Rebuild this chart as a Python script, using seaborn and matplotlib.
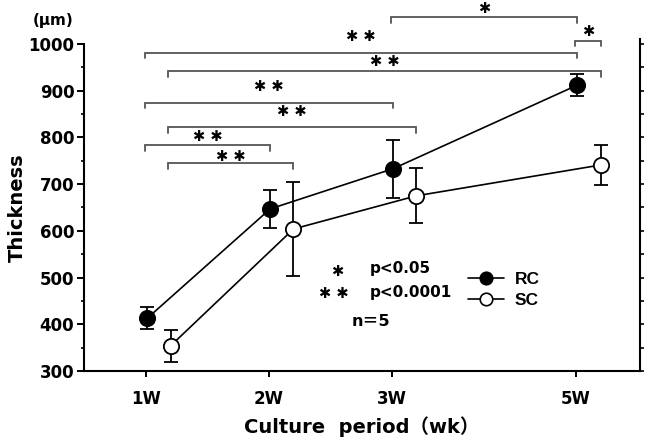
import numpy as np
import pandas as pd
import matplotlib
matplotlib.use("Agg")
import matplotlib.pyplot as plt
import seaborn as sns
from matplotlib.lines import Line2D
from matplotlib.ticker import MultipleLocator

# ---------------- data ----------------
weeks = ["1W", "2W", "3W", "5W"]
week_pos = [0, 1, 2, 3.5]          # 5W sits 1.5 steps after 3W on the axis
rc_mean = [413, 647, 733, 912]
rc_sd = [24, 41, 62, 24]
sc_mean = [354, 604, 675, 741]
sc_sd = [34, 100, 59, 43]

# significance brackets: (from week, from group, to week, to group, bar height, star height, label)
brackets = [
    ("3W", "RC", "5W", "RC", 1058, 1077, "✱"),
    ("5W", "RC", "5W", "SC", 1007, 1026, "✱"),
    ("1W", "RC", "5W", "RC", 981, 1015, "✱ ✱"),
    ("1W", "SC", "5W", "SC", 942, 962, "✱ ✱"),
    ("1W", "RC", "3W", "RC", 874, 908, "✱ ✱"),
    ("1W", "SC", "3W", "SC", 822, 855, "✱ ✱"),
    ("1W", "RC", "2W", "RC", 784, 801, "✱ ✱"),
    ("1W", "SC", "2W", "SC", 745, 760, "✱ ✱"),
]

group_offset = {"RC": 0.01, "SC": 0.2}

# ---------------- style ----------------
sns.set_theme(style="ticks")
plt.rcParams["font.family"] = ["DejaVu Sans", "Noto Sans CJK JP"]
plt.rcParams["font.weight"] = "bold"
for k in ["text.color", "axes.labelcolor", "xtick.color", "ytick.color", "axes.edgecolor"]:
    plt.rcParams[k] = "black"
STAR = ["DejaVu Sans", "Noto Sans CJK JP"]

fig = plt.figure(figsize=(6.5, 4.4), dpi=100)
ax = fig.add_axes([84 / 650, 1 - 371 / 440, (640 - 84) / 650, (371 - 44) / 440])

pos = dict(zip(weeks, week_pos))
df = pd.DataFrame({
    "x": [p + group_offset["RC"] for p in week_pos] + [p + group_offset["SC"] for p in week_pos],
    "Thickness": rc_mean + sc_mean,
    "sd": rc_sd + sc_sd,
    "group": ["RC"] * 4 + ["SC"] * 4,
})

for g, face in [("RC", "black"), ("SC", "white")]:
    d = df[df.group == g]
    ax.errorbar(d.x, d.Thickness, yerr=d.sd, fmt="none", ecolor="black",
                elinewidth=1.3, capsize=5, capthick=1.3, zorder=2)
    sns.lineplot(data=d, x="x", y="Thickness", ax=ax, color="black", lw=1.2,
                 marker="o", markersize=11, markerfacecolor=face,
                 markeredgecolor="black", markeredgewidth=1.3, zorder=3,
                 legend=False, sort=False)

# brackets
bar_col = "#555555"
tick_h = 12
for w1, g1, w2, g2, h, sh, lab in brackets:
    x1 = pos[w1] + group_offset[g1] - 0.02
    x2 = pos[w2] + group_offset[g2]
    ax.plot([x1, x1, x2, x2], [h - tick_h, h, h, h - tick_h], color=bar_col,
            lw=1.3, clip_on=False, zorder=1, solid_joinstyle="miter")
    ax.text((x1 + x2) / 2, sh, lab, ha="center", va="center", fontsize=10.5,
            family=STAR, clip_on=False)

# axes
ax.set_xlim(-0.505, 4.02)
ax.set_ylim(300, 1000)
ax.set_xticks(week_pos)
ax.set_xticklabels(weeks, fontsize=12, fontweight="bold")
ax.set_yticks(np.arange(300, 1001, 100))
ax.set_yticklabels([str(v) for v in range(300, 1001, 100)], fontsize=12, fontweight="bold")
ax.yaxis.set_minor_locator(MultipleLocator(50))
ax.tick_params(axis="y", which="major", length=5, width=1.4, pad=2)
ax.tick_params(axis="y", which="minor", length=2.5, width=1.2)
ax.tick_params(axis="x", which="major", length=4, width=1.4, pad=10)
for s in ["left", "bottom"]:
    ax.spines[s].set_linewidth(1.5)
ax.spines["top"].set_visible(False)
ax.spines["right"].set_visible(False)

ax2 = ax.twinx()
ax2.set_ylim(300, 1000)
ax2.set_yticks(np.arange(300, 1001, 50))
ax2.set_yticklabels([])
ax2.tick_params(axis="y", length=3, width=1.2)
ax2.spines["top"].set_visible(False)
ax2.spines["left"].set_visible(False)
ax2.spines["bottom"].set_visible(False)
ax2.spines["right"].set_linewidth(1.5)
ax2.spines["right"].set_bounds(300, 1010)

ax.set_xlabel("Culture  period（wk）", fontsize=14, fontweight="bold", labelpad=6)
ax.set_ylabel("Thickness", fontsize=14, fontweight="bold", labelpad=1)
fig.text(53 / 650, 1 - 21 / 440, "(μm)", ha="center", va="center",
         fontsize=11, fontweight="bold")

# in-plot annotations
def fx(px):
    return (px - 84) / 556

def fy(py):
    return (371 - py) / 327

ax.text(fx(337), fy(271), "✱", transform=ax.transAxes, ha="center", va="center",
        fontsize=10.5, family=STAR)
ax.text(fx(334), fy(293), "✱ ✱", transform=ax.transAxes, ha="center", va="center",
        fontsize=10.5, family=STAR)
ax.text(fx(370), fy(268), "p<0.05", transform=ax.transAxes, ha="left", va="center",
        fontsize=11, fontweight="bold")
ax.text(fx(370), fy(292), "p<0.0001", transform=ax.transAxes, ha="left", va="center",
        fontsize=11, fontweight="bold")
ax.text(fx(371), fy(321), "n＝5", transform=ax.transAxes, ha="center", va="center",
        fontsize=11.5, fontweight="bold")

handles = [
    Line2D([], [], color="black", lw=1.2, marker="o", markersize=9,
           markerfacecolor="black", markeredgecolor="black", markeredgewidth=1.2),
    Line2D([], [], color="black", lw=1.2, marker="o", markersize=9,
           markerfacecolor="white", markeredgecolor="black", markeredgewidth=1.2),
]
leg = ax.legend(handles, ["RC", "SC"], loc="center left",
                bbox_to_anchor=(fx(468), fy(290)), frameon=False,
                borderpad=0, borderaxespad=0, handlelength=2.1,
                handletextpad=0.6, labelspacing=0.35,
                prop={"family": ["Liberation Sans"], "weight": "bold", "size": 12.5})
for t in leg.get_texts():
    t.set_color("black")

fig.savefig("out.png", dpi=100)
